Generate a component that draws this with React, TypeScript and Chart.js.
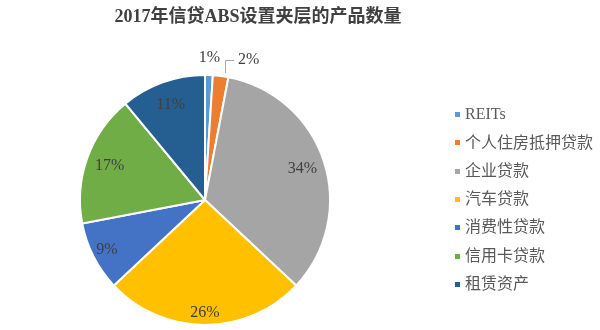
import React, { useEffect, useRef } from "react";
import { Chart, registerables } from "chart.js";

Chart.register(...registerables);

const categories = ["REITs", "个人住房抵押贷款", "企业贷款", "汽车贷款", "消费性贷款", "信用卡贷款", "租赁资产"];
const shares = [1, 2, 34, 26, 9, 17, 11];
const valueLabels = ["1%", "2%", "34%", "26%", "9%", "17%", "11%"];
const sliceColors = ["#5B9BD5", "#ED7D31", "#A5A5A5", "#FFC000", "#4472C4", "#70AD47", "#255E91"];
const titleText = "2017年信贷ABS设置夹层的产品数量";

// label placement style per slice: outside, leader, or inside with radius factor
const labelModes = ["outside", "leader", "inside", "inside", "inside", "inside", "inside"];
const labelFactors = [0, 0, 0.82, 0.9, 0.88, 0.81, 0.81];

const overlayPlugin = {
  id: "overlay",
  afterDraw(chart: any) {
    const ctx: CanvasRenderingContext2D = chart.ctx;
    const meta = chart.getDatasetMeta(0);
    ctx.save();

    // title
    ctx.fillStyle = "#404040";
    ctx.font = "bold 18px 'Liberation Serif', 'Noto Sans CJK SC', serif";
    ctx.textAlign = "center";
    ctx.textBaseline = "middle";
    ctx.fillText(titleText, 258, 17);

    // data labels
    ctx.font = "16px 'Liberation Serif', serif";
    ctx.fillStyle = "#404040";
    meta.data.forEach((arc: any, i: number) => {
      const p = arc.getProps(["x", "y", "startAngle", "endAngle", "outerRadius"], true);
      const mid = (p.startAngle + p.endAngle) / 2;
      const mode = labelModes[i];
      if (mode === "inside") {
        const r = p.outerRadius * labelFactors[i];
        ctx.textAlign = "center";
        ctx.fillText(valueLabels[i], p.x + Math.cos(mid) * r, p.y + Math.sin(mid) * r);
      } else if (mode === "outside") {
        const r = p.outerRadius + 17;
        ctx.textAlign = "center";
        ctx.fillText(valueLabels[i], p.x + Math.cos(mid) * r, p.y + Math.sin(mid) * r);
      } else {
        const sx = p.x + Math.cos(mid) * (p.outerRadius + 3) + 4;
        const sy = p.y + Math.sin(mid) * (p.outerRadius + 3);
        ctx.strokeStyle = "#A6A6A6";
        ctx.lineWidth = 1;
        ctx.beginPath();
        ctx.moveTo(Math.round(sx) + 0.5, sy);
        ctx.lineTo(Math.round(sx) + 0.5, sy - 12.5);
        ctx.lineTo(sx + 9, sy - 12.5);
        ctx.stroke();
        ctx.textAlign = "left";
        ctx.fillText(valueLabels[i], sx + 13, sy - 13);
      }
    });

    // legend
    const lx = 455;
    const ly = 115;
    const step = 28.3;
    ctx.font = "16px 'Liberation Serif', 'Noto Sans CJK SC', serif";
    ctx.textAlign = "left";
    ctx.textBaseline = "middle";
    categories.forEach((c, i) => {
      const y = ly + i * step;
      ctx.fillStyle = sliceColors[i];
      ctx.fillRect(lx, Math.round(y) - 3, 5, 5);
      ctx.fillStyle = "#595959";
      ctx.fillText(c, lx + 10, y);
    });

    ctx.restore();
  },
};

export default function App() {
  const ref = useRef<HTMLCanvasElement | null>(null);
  useEffect(() => {
    if (!ref.current) return;
    const chart = new Chart(ref.current, {
      type: "pie",
      data: {
        labels: categories,
        datasets: [
          {
            data: shares,
            backgroundColor: sliceColors,
            borderColor: "#FFFFFF",
            borderWidth: 2,
          },
        ],
      },
      options: {
        responsive: false,
        animation: false,
        layout: { padding: { left: 79, right: 269, top: 74, bottom: 4 } },
        plugins: {
          legend: { display: false },
          title: { display: false },
          tooltip: { enabled: false },
        },
      },
      plugins: [overlayPlugin],
    });
    return () => chart.destroy();
  }, []);
  return (
    <div style={{ position: "absolute", left: 0, top: 0, width: 600, height: 330, background: "#FFFFFF" }}>
      <canvas ref={ref} width={600} height={330} style={{ display: "block" }} />
    </div>
  );
}
